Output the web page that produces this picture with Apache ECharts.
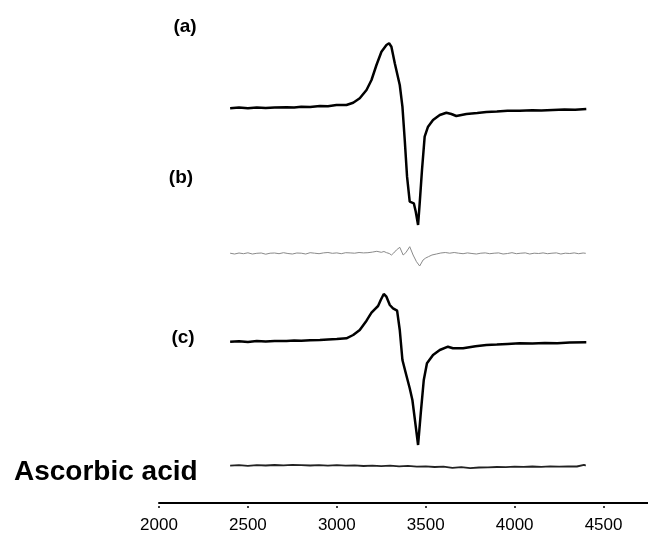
<!DOCTYPE html>
<html>
<head>
<meta charset="utf-8">
<script src="https://cdn.jsdelivr.net/npm/echarts@6/dist/echarts.min.js"></script>
<style>html,body{margin:0;padding:0;background:#fff}#chart{width:648px;height:534px}</style>
</head>
<body>
<div id="chart"></div>
<script>
// Magnetic field (G) tick labels
var xTicks = [2000, 2500, 3000, 3500, 4000, 4500];

// Spectrum (a)
var fieldA = [2400,2450,2500,2550,2600,2650,2717,2760,2800,2850,2905,2950,2998,3054,3092,3129,3167,3195,3223,3251,3279,3294,3307,3326,3354,3369,3382,3395,3410,3433,3444,3457,3466,3479,3494,3513,3541,3579,3616,3644,3672,3729,3790,3841,3900,3960,4028,4100,4150,4215,4280,4340,4403];
var sigA   = [-0.3,0.4,-0.2,0.5,0.1,0.6,0.7,0.4,1.2,0.9,2,1.8,3,3,5.3,9.7,18,28,43,56.3,63,64.7,61.3,44.7,23,1.3,-32,-68.7,-93.7,-95.3,-103.7,-117,-95.3,-62,-28.7,-18.7,-12,-7,-4.7,-6,-8,-6,-5,-4,-3.5,-2.8,-2.7,-2.2,-2.6,-2,-1.5,-1.8,-1];

// Spectrum (b)
var fieldB = [2400,2425,2450,2475,2500,2525,2550,2575,2600,2625,2650,2675,2700,2725,2750,2775,2800,2825,2850,2875,2900,2925,2950,2975,3000,3025,3050,3075,3100,3125,3150,3175,3200,3225,3250,3265,3280,3295,3307,3320,3335,3354,3373,3388,3410,3429,3448,3466,3485,3500,3515,3535,3560,3585,3610,3635,3660,3685,3710,3735,3760,3785,3810,3835,3860,3885,3910,3935,3960,3985,4010,4035,4060,4085,4110,4135,4160,4185,4210,4235,4260,4285,4310,4335,4360,4385,4400];
var sigB   = [0.3,-0.5,0.5,-0.2,0.7,-0.5,0.2,0.5,-0.7,0.3,0.5,-0.2,0.8,0,-0.5,0.5,0.3,-0.5,0.8,0.3,-0.2,0.6,1,0.2,0.6,-0.2,0.8,0.6,0.3,1,0.6,0.8,1.4,2.2,1.2,2,0.8,0,-1.5,0.5,3.5,6.2,-1.5,0.8,6.8,-1.5,-8.2,-12.5,-6.5,-4.5,-3.2,-1.5,-0.5,0.5,1,0.3,1,0.3,-0.2,0.6,0,-0.5,0.3,0.6,-0.2,0.3,0.6,-0.5,0,0.8,-0.2,0.3,0.6,-0.5,0.3,0,0.6,-0.2,0.3,0.6,-0.5,0.3,0,0.6,-0.2,0.5,0.2];

// Spectrum (c)
var fieldC = [2400,2450,2500,2550,2600,2650,2717,2760,2800,2850,2905,2950,3000,3054,3092,3129,3167,3195,3213,3232,3247,3264,3279,3298,3316,3339,3354,3369,3388,3410,3425,3444,3457,3472,3489,3507,3541,3579,3625,3653,3710,3780,3841,3900,3960,4028,4100,4170,4240,4310,4403];
var sigC   = [0,0.5,-0.3,0.6,0.2,0.8,0.7,1.1,0.9,1.5,1.7,2.2,2.6,3.4,6.7,11.7,21,29,32.4,35.7,41.7,47.7,45,36.7,33.4,31,11.7,-18.3,-31.6,-46.6,-58.3,-85,-103.3,-71.6,-38.3,-21.6,-13.3,-8.3,-5,-6.6,-6.6,-4.5,-3.3,-2.8,-2.2,-1.6,-1.9,-1.2,-1.5,-0.8,-0.6];

// Ascorbic acid
var fieldD = [2400,2450,2500,2550,2600,2650,2700,2750,2800,2850,2900,2950,3000,3050,3100,3150,3200,3250,3300,3350,3400,3450,3500,3550,3600,3650,3700,3750,3800,3850,3900,3950,4000,4050,4100,4150,4200,4250,4300,4350,4390,4400];
var sigD   = [0.3,0.8,0.2,0.9,0.5,1,0.6,1.1,0.8,0.5,0.9,0.4,0.8,0.3,0.6,0,0.4,-0.2,0.3,-0.4,0.1,-0.6,-0.3,-1,-0.6,-1.8,-1.2,-2.2,-1.5,-1.3,-1,-1.2,-0.7,-0.9,-0.5,-0.8,-0.4,-0.6,-0.3,-0.5,1.2,0.4];

var labels = ['(a)', '(b)', '(c)', 'Ascorbic acid'];

function pairs(xs, ys, off) {
  return xs.map(function (x, i) { return [x, ys[i] + off]; });
}

var chart = echarts.init(document.getElementById('chart'), null, {renderer: 'canvas'});
var FONT = '"Liberation Sans", Arial, Helvetica, sans-serif';

chart.setOption({
  animation: false,
  backgroundColor: '#fff',
  grid: {left: 159, right: 0, top: 0, bottom: 31, containLabel: false},
  xAxis: [
    {
      type: 'value', min: 2000, max: 4750, position: 'bottom',
      axisLine: {show: true, lineStyle: {color: '#000', width: 2}},
      axisTick: {show: false}, axisLabel: {show: false}, splitLine: {show: false}
    },
    {
      type: 'value', min: 2000, max: 4750, position: 'bottom', offset: 3,
      axisLine: {show: false},
      axisTick: {show: true, length: 2, customValues: xTicks, lineStyle: {color: '#000', width: 1.5}},
      axisLabel: {show: true, customValues: xTicks, margin: 11, color: '#000', fontSize: 17, fontFamily: FONT,
        formatter: function (v) { return String(v); }},
      splitLine: {show: false}
    }
  ],
  yAxis: {type: 'value', min: 0, max: 503, show: false},
  series: [
    {type: 'line', xAxisIndex: 0, data: pairs(fieldA, sigA, 395), showSymbol: false, lineStyle: {color: '#000', width: 2.5}},
    {type: 'line', xAxisIndex: 0, data: pairs(fieldB, sigB, 249.5), showSymbol: false, lineStyle: {color: '#8a8a8a', width: 1}},
    {type: 'line', xAxisIndex: 0, data: pairs(fieldC, sigC, 161.3), showSymbol: false, lineStyle: {color: '#000', width: 2.5}},
    {type: 'line', xAxisIndex: 0, data: pairs(fieldD, sigD, 37), showSymbol: false, lineStyle: {color: '#222', width: 1.8}}
  ],
  graphic: [
    {type: 'text', x: 185, y: 27, style: {text: labels[0], fill: '#000', font: 'bold 19px ' + FONT, textAlign: 'center', textVerticalAlign: 'middle'}},
    {type: 'text', x: 181, y: 178, style: {text: labels[1], fill: '#000', font: 'bold 19px ' + FONT, textAlign: 'center', textVerticalAlign: 'middle'}},
    {type: 'text', x: 183, y: 338, style: {text: labels[2], fill: '#000', font: 'bold 19px ' + FONT, textAlign: 'center', textVerticalAlign: 'middle'}},
    {type: 'text', x: 14, y: 472, style: {text: labels[3], fill: '#000', font: 'bold 28px ' + FONT, textAlign: 'left', textVerticalAlign: 'middle'}}
  ]
});
</script>
</body>
</html>
